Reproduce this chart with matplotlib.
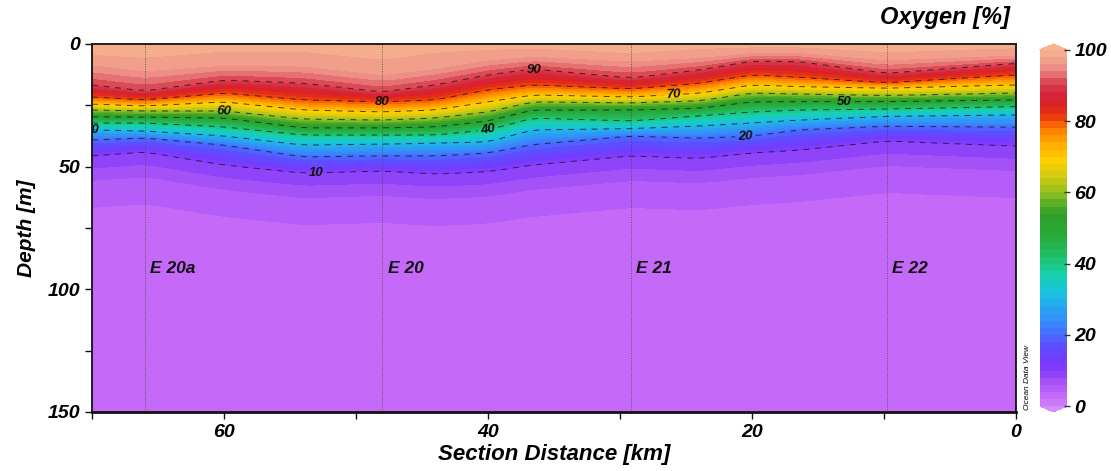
import numpy as np
import matplotlib
matplotlib.use("Agg")
import matplotlib.pyplot as plt
from matplotlib.colors import LinearSegmentedColormap
from matplotlib.ticker import MultipleLocator

plt.rcParams['font.family'] = ['Liberation Sans', 'DejaVu Sans']

# ---------------- data ----------------
node_km = [70, 66, 60, 54, 48, 44, 40, 36.6, 29.2, 24, 20, 16.4, 9.8, 0]
levels_iso = [90, 80, 70, 60, 50, 40, 30, 20, 10]
# depth [m] of each isoline (90 ... 10 %) at each node distance
iso_depth = [
    [16.7, 21.6, 24.5, 26.9, 29.7, 32.2, 35.0, 39.1, 45.6],   # 70
    [19.2, 22.8, 25.3, 27.3, 29.8, 32.2, 35.5, 38.3, 44.0],   # 66
    [14.7, 20.0, 23.6, 27.3, 30.2, 33.8, 37.5, 41.2, 49.3],   # 60
    [16.0, 22.8, 26.9, 30.6, 34.2, 37.1, 41.2, 46.0, 52.6],   # 54
    [19.6, 23.6, 27.7, 31.0, 34.2, 37.1, 40.8, 45.6, 51.7],   # 48
    [16.7, 22.8, 26.9, 30.2, 33.8, 37.1, 40.4, 45.6, 53.0],   # 44
    [12.6, 18.7, 23.6, 27.7, 31.4, 35.0, 39.9, 44.4, 52.0],   # 40
    [10.2, 16.7, 20.8, 23.6, 26.9, 30.2, 35.0, 41.0, 49.3],   # 36.6
    [13.9, 18.3, 21.6, 24.0, 26.9, 31.4, 34.5, 37.5, 45.6],   # 29.2
    [10.6, 16.0, 20.1, 23.2, 26.2, 29.3, 33.4, 38.4, 46.6],   # 24
    [7.0, 12.6, 16.7, 20.0, 23.6, 27.7, 32.2, 37.5, 44.4],    # 20
    [7.2, 13.6, 17.4, 20.4, 23.5, 26.9, 31.0, 35.0, 43.2],    # 16.4
    [12.0, 15.8, 18.0, 21.0, 23.5, 26.5, 29.5, 33.5, 39.5],   # 9.8
    [7.9, 12.6, 16.7, 20.0, 22.8, 25.5, 28.9, 33.9, 41.6],    # 0
]
# depth [m] of the ~96 % (peach -> salmon) transition near the surface
iso96_depth = [8.5, 11.0, 8.6, 9.0, 12.6, 10.0, 6.5, 5.0, 7.0, 5.5, 3.5, 3.5, 6.5, 4.5]
surface_oxy = [100, 100, 99, 99, 100, 99, 99, 99, 100, 99, 99, 99, 100, 99]
deep_vals = [6, 4, 3, 2.5]          # oxygen below the 10 % isoline
deep_offsets = [10, 21, 33]         # m below the 10 % isoline (last value at 150 m)

stations = ["E 20a", "E 20", "E 21", "E 22"]
station_km = [66.0, 48.0, 29.2, 9.8]

cbar_ticks = [0, 20, 40, 60, 80, 100]
x_ticks = [0, 20, 40, 60]
y_ticks = [0, 50, 100, 150]

# ---------------- build gridded field ----------------
xg = np.linspace(0, 70, 351)
zg = np.linspace(0, 150, 601)
nk = np.array(node_km)[::-1]
D = np.array(iso_depth)[::-1]
S = np.array(surface_oxy)[::-1]
D96 = np.array(iso96_depth)[::-1]

def smooth(a, w=9):
    pad = w // 2
    ap = np.pad(a, pad, mode='edge')
    return np.convolve(ap, np.ones(w) / w, mode='valid')

Dg = np.array([smooth(np.interp(xg, nk, D[:, j])) for j in range(D.shape[1])]).T
Sg = smooth(np.interp(xg, nk, S))
D96g = smooth(np.interp(xg, nk, D96))

field = np.zeros((zg.size, xg.size))
for i in range(xg.size):
    d10 = Dg[i, -1]
    d96 = min(D96g[i], Dg[i, 0] - 1.0)
    deps = [0.0, d96] + list(Dg[i]) + [d10 + o for o in deep_offsets] + [150.0]
    vals = [Sg[i], 96] + levels_iso + deep_vals
    field[:, i] = np.interp(zg, deps, vals)

# ---------------- colormap ----------------
cnodes = [
    (0.00, '#cc80fa'), (0.03, '#c468f8'), (0.08, '#9848f8'), (0.12, '#7838ff'),
    (0.17, '#5a50ff'), (0.22, '#3c80ff'), (0.27, '#2aa0f0'), (0.32, '#18c4e0'),
    (0.37, '#18d0a8'), (0.42, '#20c068'), (0.48, '#28a838'), (0.54, '#30a028'),
    (0.60, '#90c020'), (0.65, '#d8cc10'), (0.69, '#ffd000'), (0.74, '#ffa800'),
    (0.78, '#ff7a00'), (0.82, '#e83010'), (0.86, '#d41e30'), (0.90, '#d83a4a'),
    (0.95, '#ec8c86'), (1.00, '#f6b490'),
]
cmap = LinearSegmentedColormap.from_list('odv', cnodes)
cmap.set_over('#f6b490')
cmap.set_under('#d48cff')

# ---------------- figure ----------------
fig = plt.figure(figsize=(11.11, 4.71), dpi=100)
ax = fig.add_axes([0.0828, 0.1253, 0.8317, 0.7813])

X, Z = np.meshgrid(xg, zg)
cf = ax.contourf(X, Z, field, levels=np.linspace(0, 100, 51), cmap=cmap, extend='both')
cs = ax.contour(X, Z, field, levels=sorted(levels_iso), colors='#111111', linewidths=0.7,
                linestyles=[(0, (6, 6))], alpha=0.75)
label_pos = [(36.5, 10.5), (48, 23.5), (26, 20.5), (60, 27), (13, 22.5),
             (40, 35), (20.5, 37.5), (53, 52.5)]
lbls = ax.clabel(cs, manual=label_pos, fmt='%d', fontsize=9.5, inline=True,
                 inline_spacing=3)
for t in lbls:
    t.set_fontweight('bold')
    t.set_fontstyle('italic')
    t.set_color('#111111')
ax.text(69.45, 35.2, '30', fontsize=9.5, fontweight='bold', fontstyle='italic',
        ha='right', va='center', color='#111111', clip_on=True)

for km, name in zip(station_km, stations):
    ax.axvline(km, color='#444444', lw=0.7, ls=(0, (1, 1.5)), alpha=0.8)
    ax.text(km - 0.4, 91.5, name, fontsize=12.5, fontweight='bold', fontstyle='italic',
            ha='left', va='center', color='#111111')

ax.set_xlim(70, 0)
ax.set_ylim(150, 0)
ax.set_xticks(x_ticks)
ax.set_yticks(y_ticks)
ax.xaxis.set_minor_locator(MultipleLocator(10))
ax.yaxis.set_minor_locator(MultipleLocator(25))
ax.tick_params(axis='both', which='both', direction='out', length=5, width=1, color='#111111')
for lab in ax.get_xticklabels() + ax.get_yticklabels():
    lab.set_fontweight('bold')
    lab.set_fontstyle('italic')
    lab.set_fontsize(14)
for s in ax.spines.values():
    s.set_linewidth(1.3)
    s.set_color('#111111')
ax.spines['bottom'].set_linewidth(2.0)
ax.set_xlabel('Section Distance [km]', fontsize=16, fontweight='bold', fontstyle='italic',
              labelpad=2)
ax.set_ylabel('Depth [m]', fontsize=15, fontweight='bold', fontstyle='italic', labelpad=8)

fig.text(0.909, 0.962, 'Oxygen [%]', fontsize=17, fontweight='bold', fontstyle='italic',
         ha='right', va='center')
fig.text(0.9245, 0.13, 'Ocean Data View', fontsize=6, fontstyle='italic', rotation=90,
         ha='center', va='bottom')

cax = fig.add_axes([0.936, 0.1253, 0.0243, 0.7813])
cb = fig.colorbar(cf, cax=cax, extend='both', extendfrac=0.016, ticks=cbar_ticks)
cb.outline.set_visible(False)
cax.tick_params(length=4, width=1, color='#333333', direction='inout')
for lab in cax.get_yticklabels():
    lab.set_fontweight('bold')
    lab.set_fontstyle('italic')
    lab.set_fontsize(14)

fig.savefig('out.png', dpi=100)
